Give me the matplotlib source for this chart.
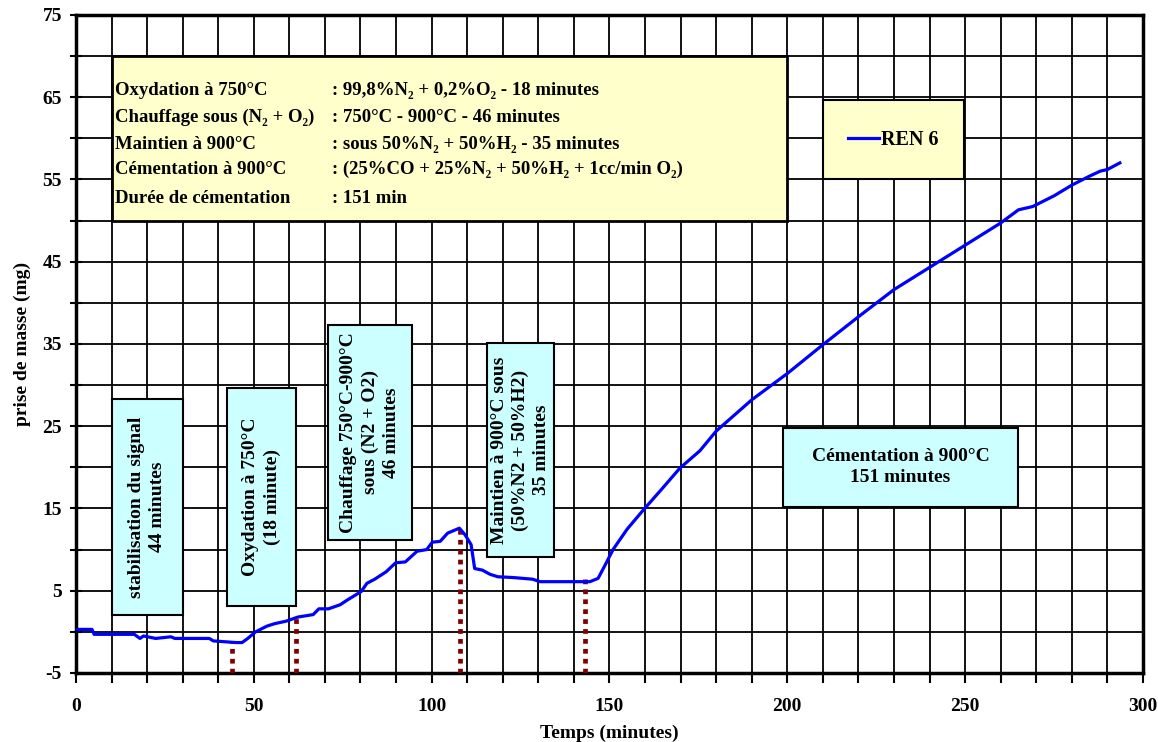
import matplotlib
matplotlib.use("Agg")
import matplotlib.pyplot as plt
from matplotlib.patches import Rectangle
from matplotlib.ticker import MultipleLocator

plt.rcParams['font.family'] = ['Liberation Serif', 'DejaVu Serif']
plt.rcParams['font.weight'] = 'bold'
plt.rcParams['axes.unicode_minus'] = False

# mass gain curve, REN 6 run
temps = [0, 4.5, 5.1, 16.4, 18, 19, 22.4, 26.7, 27.8, 37.5, 38.6, 45, 46.7, 48.3,
         50.5, 53.7, 55.9, 59.1, 62.4, 66.7, 68.3, 71, 74.3, 76.4, 80.2, 81.8, 84,
         87.2, 89.9, 92.6, 95.9, 98.6, 100.2, 102.4, 104.5, 107.8, 109.4, 111.1,
         112.1, 114.3, 116.4, 118.6, 123, 128.4, 130.5, 144.5, 146.8, 149, 151,
         155, 159.5, 165, 169.8, 175.4, 180, 190, 200, 210, 220, 230, 240, 250,
         260, 265, 269, 275, 280, 285, 288, 290, 293.5]
masse = [0.3, 0.3, -0.3, -0.3, -0.8, -0.5, -0.8, -0.6, -0.8, -0.8, -1.1, -1.3, -1.3, -0.8,
         0.0, 0.7, 1.0, 1.3, 1.8, 2.1, 2.8, 2.8, 3.3, 3.9, 4.9, 5.9, 6.4,
         7.3, 8.4, 8.5, 9.8, 10.0, 10.9, 11.0, 12.0, 12.6, 11.8, 10.6,
         7.7, 7.5, 7.0, 6.7, 6.6, 6.4, 6.1, 6.1, 6.5, 8.3, 10.0,
         12.5, 14.8, 17.5, 19.9, 22.0, 24.4, 28.2, 31.4, 34.9, 38.3, 41.6, 44.3, 47.0,
         49.7, 51.3, 51.7, 53.0, 54.3, 55.4, 56.0, 56.2, 57.0]

# end of each stage (min) and curve value there
fin_etape = [44, 62, 108, 143]
masse_fin = [-1.2, 1.8, 12.6, 6.4]

lignes_gauche = ["Oxydation à 750°C", "Chauffage sous (N₂ + O₂)", "Maintien à 900°C",
                 "Cémentation à 900°C", "Durée de cémentation"]
lignes_droite = [": 99,8%N₂ + 0,2%O₂ - 18 minutes", ": 750°C - 900°C - 46 minutes",
                 ": sous 50%N₂ + 50%H₂ - 35 minutes",
                 ": (25%CO + 25%N₂ + 50%H₂ + 1cc/min O₂)", ": 151 min"]

etapes = ["stabilisation du signal\n44 minutes",
          "Oxydation à 750°C\n(18 minute)",
          "Chauffage 750°C-900°C\nsous (N2 + O2)\n46 minutes",
          "Maintien à 900°C sous\n(50%N2 + 50%H2)\n35 minutes",
          "Cémentation à 900°C\n151 minutes"]
# x0, y0, width, height of each stage box
boites = [(10, 2, 20, 26.3), (42.6, 3.2, 19.2, 26.4), (70.8, 11.2, 23.7, 26.1),
          (115.5, 9.1, 18.9, 26), (198.7, 15.2, 66.2, 9.6)]
rotations = [90, 90, 90, 90, 0]

fig = plt.figure(figsize=(11.58, 7.42), dpi=100)
ax = fig.add_axes([0.0656, 0.093, 0.9214, 0.887])

ax.set_xlim(0, 300)
ax.set_ylim(-5, 75)
ax.xaxis.set_major_locator(MultipleLocator(50))
ax.xaxis.set_minor_locator(MultipleLocator(10))
ax.set_yticks(range(-5, 76, 10))
ax.yaxis.set_minor_locator(MultipleLocator(5))
ax.grid(True, which='both', color='black', linewidth=1.3, zorder=0)
for s in ax.spines.values():
    s.set_linewidth(2.5)
ax.tick_params(axis='x', which='both', direction='out', length=7, width=1.5, pad=11, labelsize=14)
ax.tick_params(axis='y', which='both', direction='inout', length=8, width=1.5, pad=6, labelsize=14)

ax.set_xlabel("Temps (minutes)", fontsize=14, fontweight='bold', labelpad=7)
ax.set_ylabel("prise de masse (mg)", fontsize=14, fontweight='bold', labelpad=8)

ax.vlines(fin_etape, -5, masse_fin, colors='#800000', linestyles=(0, (1, 1.1)), linewidth=3.4, zorder=3)
courbe, = ax.plot(temps, masse, color='#0000ff', linewidth=2.3, zorder=4)

# stage boxes
for (x0, y0, w, h), txt, rot in zip(boites, etapes, rotations):
    ax.add_patch(Rectangle((x0, y0), w, h, facecolor='#ccffff', edgecolor='black',
                           linewidth=1.5, zorder=2))
    ax.text(x0 + w / 2, y0 + h / 2, txt, rotation=rot, ha='center', va='center',
            multialignment='center', fontsize=14, linespacing=1.3, zorder=5)

# conditions box
ax.add_patch(Rectangle((10, 50), 190, 20, facecolor='#ffffcc', edgecolor='black',
                       linewidth=2, zorder=2))
y_ligne = [65.8, 62.5, 59.3, 56.2, 52.7]
for yl, g, d in zip(y_ligne, lignes_gauche, lignes_droite):
    ax.text(11, yl, g, fontsize=13.5, va='center', zorder=5)
    ax.text(71.9, yl, d, fontsize=13.5, va='center', zorder=5)

# legend box
ax.add_patch(Rectangle((210, 55), 39.7, 9.6, facecolor='#ffffcc', edgecolor='black',
                       linewidth=1.5, zorder=2))
leg = ax.legend([courbe], ["REN 6"], loc='center', bbox_to_anchor=(229.8, 59.8),
                bbox_transform=ax.transData, frameon=False, fontsize=14.5,
                handlelength=1.55, handletextpad=0.1)
leg.set_zorder(5)

fig.savefig("out.png", dpi=100)
